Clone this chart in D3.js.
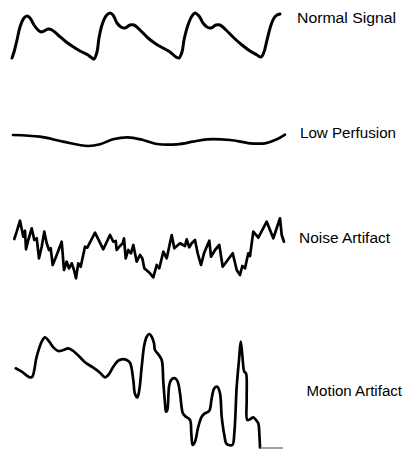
<!DOCTYPE html>
<html><head><meta charset="utf-8">
<script src="https://cdn.jsdelivr.net/npm/d3@7"></script>
<style>body{margin:0;background:#fff}svg{display:block}</style>
</head><body>
<script>
const labels = ["Normal Signal", "Low Perfusion", "Noise Artifact", "Motion Artifact"];

const normalSignal = [[12,2],[14,8],[17,20],[20,33],[24,42],[27,44],[30,42],[34,35],[38,30],[41,28],[44,29],[48,31],[52,30],[58,25],[65,19],[72,14],[80,9],[88,5],[92,2],[94,1],[97,8],[99,22],[102,35],[106,44],[110,47],[113,45],[117,37],[121,33],[125,32],[130,35],[134,35],[140,30],[148,22],[156,16],[163,12],[170,8],[176,3],[179,2],[182,8],[184,20],[188,35],[192,44],[195,47],[199,44],[203,37],[207,33],[211,32],[216,35],[220,35],[226,30],[234,22],[242,15],[250,9],[257,5],[261,3],[264,8],[267,20],[271,35],[274,42],[277,45],[280,46]];

const lowPerfusion = [[13,15],[40,13.3],[63,8.3],[88,4],[100,5.7],[113,10.7],[128,12.7],[143,10],[157,6],[177,5.7],[193,8.3],[207,10.7],[230,10],[250,6.7],[265,6.7],[277,10.7],[285,15.3]];

const noiseArtifact = [[14.3,41],[16.7,48.3],[20,59.3],[23.3,43.3],[25,49.3],[26,30.7],[28.3,40],[31.7,51.7],[34.3,40],[36.7,41.7],[39,21.7],[41.7,33.3],[44.3,48.3],[46.7,36.7],[49,30],[50.7,31.7],[52.7,15],[56.7,25],[61.7,38.3],[64,10],[66.7,18.3],[69,11.7],[71.7,16.7],[74,10],[76,1.7],[78.3,16.7],[80.7,13.3],[85,33.3],[87.3,32.3],[95,47.3],[103.3,30.7],[110,45],[113.3,38.3],[115.7,39],[116.7,30],[120,34],[122.7,36.7],[124,41.7],[125.7,21.7],[128.3,30],[131,26.7],[133.3,35],[136.7,18.3],[140,25],[142.3,21.7],[144.3,11.7],[150,6.7],[153.3,2.7],[156.7,15],[159.3,11.7],[163.3,28.3],[166.7,21.7],[171.7,45],[174.3,31.7],[180,36.7],[185,34],[186.7,40.7],[189.3,32.7],[191.7,36.7],[195,40],[197.7,26.7],[201,15],[204,26.7],[209.3,39.3],[211,23.3],[215,30],[219.3,35],[222.7,13.3],[232.7,26.7],[236.7,10],[240,5],[242.3,14],[245,11.7],[248.3,26.7],[250,24],[253.3,48.3],[258.3,42.3],[266.7,58.3],[273.3,41.7],[280,61.7],[281.7,45],[284,38.3]];

const motionArtifact = [[15.7,81.7],[21.7,78.3],[30,72.7],[32.3,73.3],[36.7,93.3],[41.7,108.3],[45,112.7],[49.3,108.3],[53.3,102.7],[58.3,99],[63.3,100],[68.3,101.7],[73.3,99],[80,92.7],[85,87.7],[93.3,82.3],[100,77.3],[105,72.7],[108.3,75],[113.3,83.3],[118.3,89.3],[121.7,90.7],[126.7,90],[130,87.3],[133.3,70],[135,56],[137.3,52.7],[139.3,60],[141.7,83.3],[144.3,105],[146.7,113.3],[149.3,116],[151.7,113.3],[154,106.7],[155,100],[158.3,95.7],[161.7,90],[163.3,68.3],[165,46.7],[166,38.3],[167.3,40],[169.3,65],[171.7,70.7],[175,71.7],[177.7,68.3],[180,56.7],[182.7,37.3],[185,34],[190,30],[191.3,16.7],[192.7,5],[195,8.3],[198.3,23.3],[201.7,33.3],[205,36.7],[209.3,39.3],[211.7,51.7],[214.3,61.7],[217.3,63.3],[220,56.7],[221.7,33.3],[224.3,15],[226.7,6],[232.3,5],[234.3,16.7],[236.7,63.3],[239,90],[240.7,108.3],[242.3,95],[244.3,78.3],[246,76.7],[246.7,51.7],[247.3,30],[250,30.7],[253.3,32.7],[256,30],[258.3,26.7],[259.3,16.7],[260,2.5]];

const motionFlat = [[260,2],[283,2]];

const W = 406, H = 449;
const svg = d3.select("body").append("svg").attr("width", W).attr("height", H);

const x = d3.scaleLinear().domain([0, 300]).range([0, 300]);

const panels = [
  {data: normalSignal, y: d3.scaleLinear().domain([0,50]).range([60,10]), curve: d3.curveCatmullRom.alpha(0.5), w: 3},
  {data: lowPerfusion, y: d3.scaleLinear().domain([0,20]).range([150,130]), curve: d3.curveCatmullRom.alpha(0.5), w: 2.7},
  {data: noiseArtifact, y: d3.scaleLinear().domain([0,60]).range([280,220]), curve: d3.curveLinear, w: 2.7},
  {data: motionArtifact, y: d3.scaleLinear().domain([0,120]).range([450,330]), curve: d3.curveCatmullRom.alpha(0.5), w: 2.7}
];

panels.forEach(p => {
  const line = d3.line().x(d => x(d[0])).y(d => p.y(d[1])).curve(p.curve);
  svg.append("path").datum(p.data).attr("d", line)
    .attr("fill", "none").attr("stroke", "#000").attr("stroke-width", p.w)
    .attr("stroke-linejoin", "round").attr("stroke-linecap", "round");
});

const flatLine = d3.line().x(d => x(d[0])).y(d => panels[3].y(d[1]));
svg.append("path").datum(motionFlat).attr("d", flatLine)
  .attr("fill", "none").attr("stroke", "#666").attr("stroke-width", 1.2);

const labelPos = [[297, 23.3, 99], [300, 138.3, 96], [299, 243.3, 91], [306.5, 396.3, 95.5]];
labels.forEach((t, i) => {
  svg.append("text").text(t)
    .attr("x", labelPos[i][0]).attr("y", labelPos[i][1])
    .attr("textLength", labelPos[i][2]).attr("lengthAdjust", "spacingAndGlyphs")
    .attr("font-family", "Liberation Sans, Arial, sans-serif")
    .attr("font-size", 14).attr("fill", "#000");
});
</script>
</body></html>
